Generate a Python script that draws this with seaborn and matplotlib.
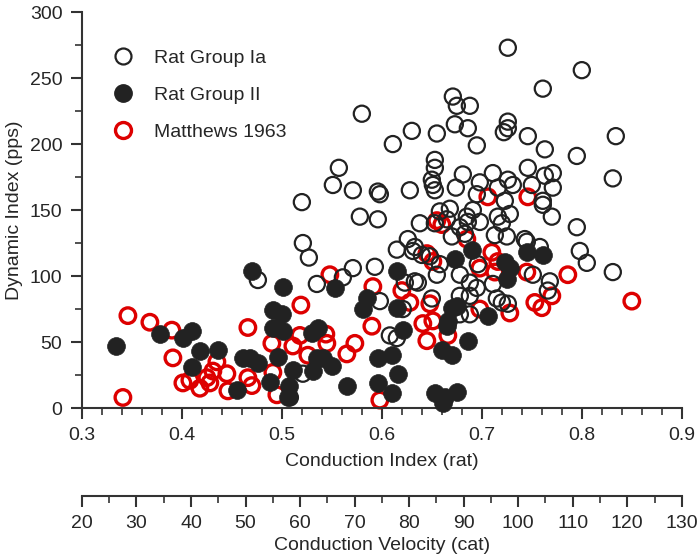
import seaborn as sns
import pandas as pd
import matplotlib.pyplot as plt
from matplotlib.lines import Line2D
from matplotlib.ticker import MultipleLocator

# values: conduction index (rat) vs dynamic index (pps)
ia_ci = [0.726, 0.800, 0.761, 0.671, 0.675, 0.688, 0.580, 0.630, 0.655, 0.611,
         0.673, 0.686, 0.695, 0.726, 0.722, 0.726, 0.746, 0.763, 0.795, 0.834,
         0.831, 0.653, 0.653, 0.650, 0.651, 0.653, 0.628, 0.596, 0.598, 0.681,
         0.674, 0.711, 0.726, 0.731, 0.698, 0.746, 0.763, 0.771, 0.771, 0.750,
         0.557, 0.551, 0.571, 0.520, 0.578, 0.596, 0.521, 0.527, 0.615, 0.631,
         0.640, 0.561, 0.571, 0.593, 0.535, 0.476, 0.521, 0.508, 0.598, 0.623,
         0.633, 0.621, 0.608, 0.615, 0.795, 0.798, 0.805, 0.831, 0.768, 0.766,
         0.758, 0.638, 0.653, 0.658, 0.668, 0.678, 0.685, 0.670, 0.698, 0.716,
         0.728, 0.713, 0.725, 0.745, 0.761, 0.770, 0.633, 0.648, 0.655, 0.636,
         0.650, 0.678, 0.696, 0.688, 0.695, 0.711, 0.715, 0.726, 0.678, 0.688,
         0.665, 0.686, 0.691, 0.695, 0.626, 0.683, 0.716, 0.761, 0.723, 0.720,
         0.743, 0.658, 0.751, 0.720, 0.688, 0.678]
ia_dyn = [273, 256, 242, 236, 229, 229, 223, 210, 208, 200,
          215, 212, 199, 217, 209, 212, 206, 196, 191, 206,
          174, 188, 182, 173, 169, 165, 165, 164, 162, 177,
          167, 178, 173, 169, 171, 182, 176, 178, 167, 169,
          182, 169, 165, 156, 145, 143, 125, 114, 120, 119,
          116, 99, 106, 107, 94, 97, 26, 8, 81, 95,
          96, 75, 55, 53, 137, 119, 110, 103, 96, 89,
          122, 140, 140, 149, 151, 137, 145, 130, 141, 145,
          147, 131, 130, 126, 154, 145, 122, 115, 101, 95,
          83, 101, 109, 95, 91, 94, 83, 79, 85, 71,
          143, 141, 150, 162, 128, 132, 167, 157, 157, 140,
          128, 109, 101, 80, 85, 71]

ii_ci = [0.470, 0.501, 0.553, 0.334, 0.378, 0.401, 0.410, 0.418, 0.436, 0.410,
         0.455, 0.461, 0.468, 0.476, 0.488, 0.491, 0.500, 0.491, 0.501, 0.496,
         0.511, 0.507, 0.506, 0.530, 0.536, 0.535, 0.541, 0.550, 0.531, 0.565,
         0.585, 0.581, 0.596, 0.596, 0.615, 0.615, 0.621, 0.610, 0.616, 0.610,
         0.673, 0.690, 0.723, 0.725, 0.728, 0.745, 0.761, 0.706, 0.670, 0.675,
         0.666, 0.686, 0.660, 0.670, 0.653, 0.663, 0.675, 0.661, 0.665]
ii_dyn = [104, 92, 91, 47, 56, 53, 58, 43, 44, 31,
          14, 38, 38, 34, 20, 74, 71, 61, 58, 39,
          29, 17, 8, 57, 61, 38, 38, 32, 28, 17,
          83, 75, 38, 19, 104, 76, 59, 40, 26, 11,
          113, 120, 111, 98, 106, 118, 116, 70, 76, 77,
          66, 51, 44, 40, 11, 8, 12, 4, 62]

mat_ci = [0.346, 0.341, 0.368, 0.390, 0.391, 0.401, 0.408, 0.418, 0.425, 0.431,
          0.428, 0.445, 0.446, 0.466, 0.466, 0.470, 0.491, 0.495, 0.490, 0.511,
          0.518, 0.519, 0.526, 0.544, 0.545, 0.548, 0.565, 0.573, 0.591, 0.590,
          0.598, 0.435, 0.620, 0.628, 0.641, 0.645, 0.651, 0.666, 0.698, 0.716,
          0.753, 0.760, 0.728, 0.770, 0.786, 0.850, 0.706, 0.746, 0.655, 0.685,
          0.698, 0.710, 0.713, 0.745, 0.648, 0.651, 0.645, 0.660]
mat_dyn = [70, 8, 65, 59, 38, 19, 21, 15, 23, 28,
           19, 26, 13, 61, 23, 17, 27, 10, 49, 47,
           55, 78, 40, 56, 49, 101, 41, 49, 92, 62,
           6, 35, 89, 80, 64, 51, 66, 55, 75, 111,
           80, 76, 72, 85, 101, 81, 160, 160, 142, 128,
           106, 118, 103, 103, 79, 111, 117, 139]

labels = ["Rat Group Ia", "Rat Group II", "Matthews 1963"]


def rat_to_cat(x):
    return 20 + (x - 0.3) * 1100 / 6


def cat_to_rat(c):
    return 0.3 + (c - 20) * 6 / 1100


sns.set_style("ticks")
plt.rcParams['font.family'] = ['Liberation Sans Narrow', 'Liberation Sans', 'DejaVu Sans']

dark = '#222222'
red = '#dd0000'

fig = plt.figure(figsize=(7, 5.6), dpi=100)
ax = fig.add_axes([0.117, 0.2714, 0.857, 0.707])

sns.scatterplot(x=mat_ci, y=mat_dyn, ax=ax, s=125, marker='o', facecolor='none',
                edgecolor=red, linewidth=2.4, clip_on=False, zorder=2)
sns.scatterplot(x=ia_ci, y=ia_dyn, ax=ax, s=135, marker='o', facecolor='none',
                edgecolor=dark, linewidth=1.6, clip_on=False, zorder=3)
sns.scatterplot(x=ii_ci, y=ii_dyn, ax=ax, s=165, marker='o', color=dark,
                edgecolor=dark, linewidth=0.5, clip_on=False, zorder=4)

ax.set_xlim(0.3, 0.9)
ax.set_ylim(0, 300)
sns.despine(ax=ax)
for sp in ['left', 'bottom']:
    ax.spines[sp].set_linewidth(1.5)
    ax.spines[sp].set_color('#333333')

ax.xaxis.set_major_locator(MultipleLocator(0.1))
ax.xaxis.set_minor_locator(MultipleLocator(0.02))
ax.yaxis.set_major_locator(MultipleLocator(50))
ax.yaxis.set_minor_locator(MultipleLocator(25))
ax.tick_params(which='major', length=8, width=1.5, color='#333333', labelsize=14, pad=6)
ax.tick_params(which='minor', length=5, width=1.2, color='#333333')
ax.xaxis.set_major_formatter(lambda v, p: f"{v:.1f}")
ax.set_xlabel("Conduction Index (rat)", fontsize=14, labelpad=6)
ax.set_ylabel("Dynamic Index (pps)", fontsize=14, labelpad=5)

cat = ax.secondary_xaxis(-0.222, functions=(rat_to_cat, cat_to_rat))
cat.set_xticks(range(20, 131, 10))
cat.xaxis.set_minor_locator(MultipleLocator(5))
cat.spines['bottom'].set_linewidth(1.5)
cat.spines['bottom'].set_color('#333333')
cat.tick_params(which='major', length=8, width=1.5, color='#333333', labelsize=14, pad=6)
cat.tick_params(which='minor', length=5, width=1.2, color='#333333')
cat.set_xlabel("Conduction Velocity (cat)", fontsize=14, labelpad=3)

handles = [
    Line2D([], [], ls='none', marker='o', ms=11.5, mfc='none', mec=dark, mew=1.6),
    Line2D([], [], ls='none', marker='o', ms=12.5, mfc=dark, mec=dark),
    Line2D([], [], ls='none', marker='o', ms=11.5, mfc='none', mec=red, mew=2.4),
]
ax.legend(handles, labels, loc='upper left', bbox_to_anchor=(0.02, 0.95), frameon=False,
          fontsize=14, handlelength=1.2, handletextpad=1.0, labelspacing=1.0)

plt.savefig('out.png', dpi=100)
